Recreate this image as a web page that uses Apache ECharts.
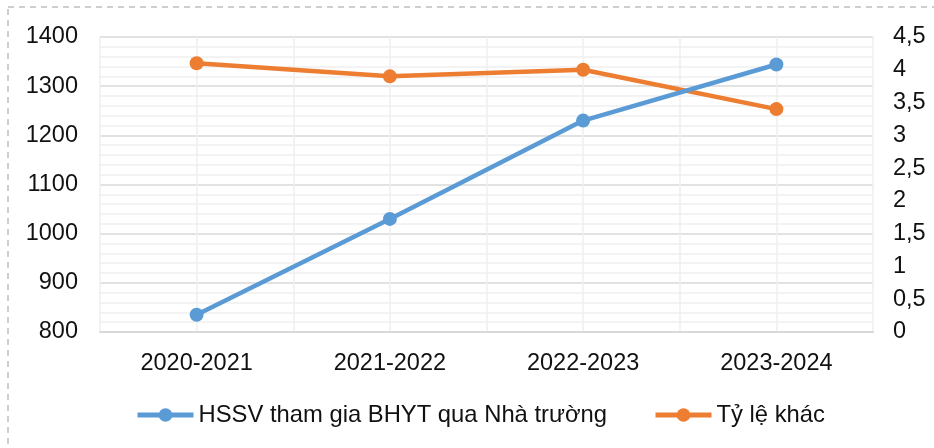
<!DOCTYPE html>
<html><head><meta charset="utf-8">
<script src="https://cdn.jsdelivr.net/npm/echarts@6/dist/echarts.min.js"></script>
<style>html,body{margin:0;padding:0;background:#fff}#c{width:934px;height:448px}</style>
</head><body><div id="c"></div>
<script>
const categories = ['2020-2021','2021-2022','2022-2023','2023-2024'];
const hssv = [835, 1030, 1230, 1344];
const tyLe = [4.1, 3.9, 4.0, 3.4];
const seriesNames = ['HSSV tham gia BHYT qua Nhà trường', 'Tỷ lệ khác'];

const FONT = 'Liberation Sans, Arial, sans-serif';
const FS = 23.5;
const chart = echarts.init(document.getElementById('c'));
chart.setOption({
  backgroundColor: '#fff',
  animation: false,
  textStyle: { fontFamily: FONT },
  graphic: [{
    type: 'rect', shape: { x: 8, y: 7, width: 1000, height: 500 }, silent: true, z: -1,
    style: { fill: 'none', stroke: '#bfbfbf', lineWidth: 1.5, lineDash: [6, 5] }
  }],
  grid: { left: 100, right: 61, top: 37, bottom: 116 },
  legend: {
    bottom: 16, left: 130,
    itemWidth: 56, itemHeight: 17, itemGap: 46,
    lineStyle: { width: 5 },
    textStyle: { fontSize: 23.8, color: '#111', fontFamily: FONT, padding: [0,0,0,0] },
    data: seriesNames
  },
  xAxis: [{
    type: 'category', data: categories, boundaryGap: true,
    axisLine: { show: true, lineStyle: { color: '#d9d9d9', width: 2 } },
    axisTick: { show: false },
    axisLabel: { fontSize: FS, color: '#111', margin: 20 },
    splitLine: { show: false }, z: 3
  }, {
    type: 'value', min: 0, max: 8, interval: 1, show: true, position: 'top',
    axisLine: { show: false }, axisTick: { show: false }, axisLabel: { show: false },
    splitLine: { show: true, lineStyle: { color: '#efefef', width: 1.5 } }
  }],
  yAxis: [{
    type: 'value', min: 800, max: 1400, interval: 100,
    axisLine: { show: false }, axisTick: { show: false },
    axisLabel: { fontSize: FS, color: '#111', margin: 22, formatter: v => String(v) },
    splitLine: { show: true, lineStyle: { color: '#d9d9d9', width: 1.5 } },
    minorTick: { show: false, splitNumber: 5 },
    minorSplitLine: { show: true, lineStyle: { color: '#efefef', width: 1.5 } }
  }, {
    type: 'value', min: 0, max: 4.5, interval: 0.5, position: 'right',
    axisLine: { show: false }, axisTick: { show: false },
    axisLabel: { fontSize: FS, color: '#111', margin: 20,
      formatter: v => String(v).replace('.', ',') },
    splitLine: { show: false }
  }],
  series: [{
    name: seriesNames[0], type: 'line', data: hssv, yAxisIndex: 0, xAxisIndex: 0,
    color: '#5B9BD5', lineStyle: { width: 4.5, color: '#5B9BD5' },
    symbol: 'circle', symbolSize: 14, itemStyle: { color: '#5B9BD5' }, z: 5
  }, {
    name: seriesNames[1], type: 'line', data: tyLe, yAxisIndex: 1, xAxisIndex: 0,
    color: '#ED7D31', lineStyle: { width: 4.5, color: '#ED7D31' },
    symbol: 'circle', symbolSize: 14, itemStyle: { color: '#ED7D31' }, z: 4
  }]
});
</script></body></html>
